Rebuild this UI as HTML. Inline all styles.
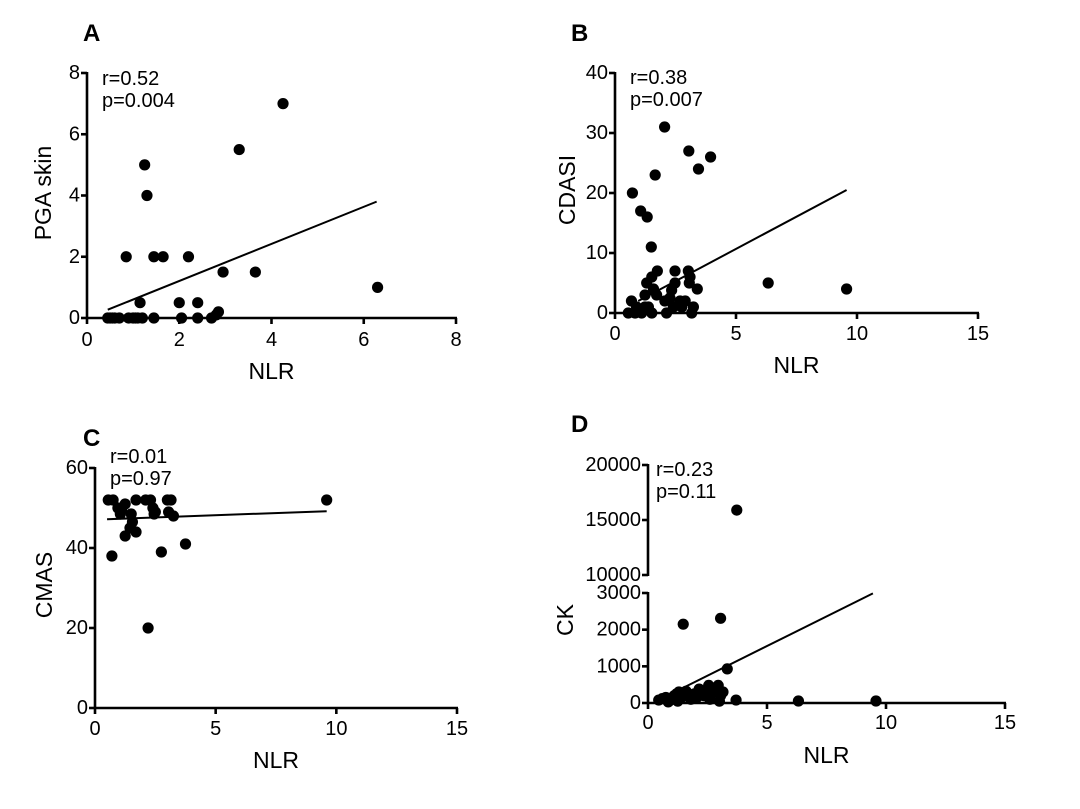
<!DOCTYPE html>
<html><head><meta charset="utf-8"><style>
html,body{margin:0;padding:0;background:#fff;}
svg text{font-family:"Liberation Sans",Arial,sans-serif;fill:#000;}
</style></head><body>
<svg id="fig" width="1080" height="804" viewBox="0 0 1080 804" xmlns="http://www.w3.org/2000/svg">
<text x="83" y="41" font-size="24" font-weight="bold">A</text>
<text x="571" y="41" font-size="24" font-weight="bold">B</text>
<text x="83" y="446" font-size="24" font-weight="bold">C</text>
<text x="571" y="432" font-size="24" font-weight="bold">D</text>
</svg>
<script>
// Panel A data
const aX=[0.45,0.5,0.55,0.6,0.7,0.9,1.0,1.05,1.1,1.2,1.45,2.05,2.4,2.7,2.8,2.85,1.15,2.0,2.4,0.85,1.45,1.65,2.2,2.95,3.65,1.25,1.3,3.3,4.25,6.3];
const aY=[0,0,0,0,0,0,0,0,0,0,0,0,0,0,0.1,0.2,0.5,0.5,0.5,2,2,2,2,1.5,1.5,5,4,5.5,7,1];
const aFit=[[0.45,0.27],[6.28,3.8]];
const aXTicks=[0,2,4,6,8];
const aYTicks=[0,2,4,6,8];
// Panel B data
const bX=[0.72,1.06,1.33,1.5,1.66,2.05,3.05,3.45,3.95,6.33,9.57,3.4,0.55,0.68,0.89,1.1,1.24,1.38,1.52,1.24,1.31,1.52,1.75,1.59,1.72,2.13,2.06,2.27,2.34,2.48,2.48,2.41,2.69,2.9,2.76,3.03,3.07,3.1,3.24,3.17,0.83];
const bY=[20,17,16,11,23,31,27,24,26,5,4,4,0,2,1,0,1,1,0,3,5,6,7,4,3,0,2,2.5,3.8,5,7,1,2,2,1,7,5,6,1,0,0];
const bFit=[[0.96,2.0],[9.57,20.5]];
const bXTicks=[0,5,10,15];
const bYTicks=[0,10,20,30,40];
// Panel C data
const cX=[0.55,0.75,1.7,2.1,2.3,3.0,3.15,9.6,0.95,1.25,1.05,1.1,1.5,1.55,1.45,1.25,1.7,2.4,2.45,2.5,3.05,3.25,0.7,2.75,3.75,2.2];
const cY=[52,52,52,52,52,52,52,52,50,51,48.5,49.5,48.5,46.5,45,43,44,50,48.5,49,49,48,38,39,41,20];
const cFit=[[0.5,47.2],[9.6,49.2]];
const cXTicks=[0,5,10,15];
const cYTicks=[0,20,40,60];
// Panel D data
const dX=[3.73,1.48,3.05,3.33,6.32,9.58,3.7,0.45,0.6,0.75,0.9,1.0,1.1,1.2,1.3,1.4,1.6,1.7,1.8,1.95,2.05,2.15,2.25,2.35,2.45,2.55,2.65,2.75,2.85,2.95,3.0,3.05,3.15,1.25,0.85,2.6];
const dY=[15900,2150,2310,930,55,55,80,80,120,150,60,100,200,250,300,150,320,200,100,250,150,380,300,200,350,480,250,400,300,480,50,200,300,50,30,100];
const dFit=[[1.43,400],[9.45,2990]];
const dXTicks=[0,5,10,15];
const dYTicksLow=[0,1000,2000,3000];
const dYTicksHigh=[10000,15000,20000];

const NS='http://www.w3.org/2000/svg';
const svg=document.getElementById('fig');
function mk(tag,attrs,parent){const e=document.createElementNS(NS,tag);for(const k in attrs)e.setAttribute(k,attrs[k]);(parent||svg).appendChild(e);return e;}

function panel(p){
  const g=mk('g',{});
  
  
  const sx=v=>p.x0+(v-p.xmin)/(p.xmax-p.xmin)*(p.x1-p.x0);
  const sy=p.sy;
  const xa=mk('line',{x1:p.x0-1,y1:p.yb,x2:p.x1+1,y2:p.yb,stroke:'#000','stroke-width':2.6},g);
  
  
  p.xticks.forEach(t=>{
    const X=sx(t);
    mk('line',{x1:X,y1:p.yb,x2:X,y2:p.yb+6,stroke:'#000','stroke-width':2.6},g);
    const tx=mk('text',{x:X,y:p.xly,'font-size':20,'text-anchor':'middle','dominant-baseline':'central'},g);
    tx.textContent=t;
    
    
  });
  p.ysegs.forEach(s=>{
    const ya=mk('line',{x1:p.x0,y1:s.top-1,x2:p.x0,y2:s.bot+1,stroke:'#000','stroke-width':2.6},g);
    
    
    s.ticks.forEach(t=>{
      const Y=sy(t);
      mk('line',{x1:p.x0-6,y1:Y,x2:p.x0,y2:Y,stroke:'#000','stroke-width':2.6},g);
      const ty=mk('text',{x:p.x0-7,y:Y,'font-size':20,'text-anchor':'end','dominant-baseline':'central'},g);
      ty.textContent=t;
      
      
    });
  });
  const xt=mk('text',{x:(p.x0+p.x1)/2,y:p.xty,'font-size':23,'text-anchor':'middle','dominant-baseline':'central'},g);
  xt.textContent='NLR';
  
  
  const yt=mk('text',{x:p.ytx,y:p.yty,'font-size':23,'text-anchor':'middle','dominant-baseline':'central',transform:'rotate(-90 '+p.ytx+' '+p.yty+')'},g);
  yt.textContent=p.ytitle;
  
  
  const r=mk('text',{x:p.ax,y:p.ay,'font-size':20,'dominant-baseline':'central'},g);
  r.textContent=p.r;
  
  
  const pv=mk('text',{x:p.ax,y:p.ay+22,'font-size':20,'dominant-baseline':'central'},g);
  pv.textContent=p.p;
  
  
  const fl=mk('line',{x1:sx(p.fit[0][0]),y1:sy(p.fit[0][1]),x2:sx(p.fit[1][0]),y2:sy(p.fit[1][1]),stroke:'#000','stroke-width':2},g);
  
  
  p.xs.forEach((v,i)=>{
    const c=mk('circle',{cx:sx(v),cy:sy(p.ys[i]),r:5.6,fill:'#000'},g);
    
    
  });
}

panel({name:'panel-a-pga-skin',x0:87,x1:456,xmin:0,xmax:8,yb:318,sy:v=>318-v*(318-73)/8,
  xticks:aXTicks,ysegs:[{top:73,bot:318,ticks:aYTicks}],xly:340,xty:371,ytx:43,yty:193,ytitle:'PGA skin',
  ax:102,ay:79,r:'r=0.52',p:'p=0.004',fit:aFit,xs:aX,ys:aY});
panel({name:'panel-b-cdasi',x0:615,x1:978,xmin:0,xmax:15,yb:313,sy:v=>313-v*6,
  xticks:bXTicks,ysegs:[{top:73,bot:313,ticks:bYTicks}],xly:334,xty:365,ytx:567,yty:190,ytitle:'CDASI',
  ax:630,ay:78,r:'r=0.38',p:'p=0.007',fit:bFit,xs:bX,ys:bY});
panel({name:'panel-c-cmas',x0:95,x1:457,xmin:0,xmax:15,yb:708,sy:v=>708-v*4,
  xticks:cXTicks,ysegs:[{top:468,bot:708,ticks:cYTicks}],xly:729,xty:760,ytx:44,yty:585,ytitle:'CMAS',
  ax:110,ay:457,r:'r=0.01',p:'p=0.97',fit:cFit,xs:cX,ys:cY});
panel({name:'panel-d-ck',x0:648,x1:1005,xmin:0,xmax:15,yb:703,
  sy:v=>v>=5000?575-(v-10000)*0.011:703-v*(110/3000),
  xticks:dXTicks,ysegs:[{top:593,bot:703,ticks:dYTicksLow},{top:465,bot:575,ticks:dYTicksHigh}],xly:723,xty:755,ytx:565,yty:620,ytitle:'CK',
  ax:656,ay:470,r:'r=0.23',p:'p=0.11',fit:dFit,xs:dX,ys:dY});
</script>
</body></html>
